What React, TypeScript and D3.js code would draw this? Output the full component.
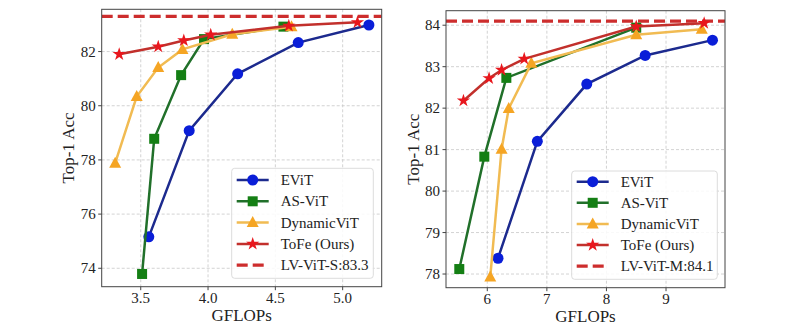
import React from "react";
import * as d3 from "d3";

// ---- Left panel data (LV-ViT-S) ----
const leftEViTX = [3.56, 3.86, 4.22, 4.67, 5.195];
const leftEViTY = [75.16, 79.08, 81.18, 82.33, 82.98];
const leftASViTX = [3.51, 3.6, 3.8, 3.97, 4.56];
const leftASViTY = [73.79, 78.78, 81.13, 82.46, 82.92];
const leftDynX = [3.31, 3.47, 3.63, 3.81, 4.18, 4.62];
const leftDynY = [77.88, 80.34, 81.41, 82.08, 82.64, 82.92];
const leftToFeX = [3.34, 3.63, 3.82, 4.02, 4.6, 5.11];
const leftToFeY = [81.9, 82.18, 82.41, 82.62, 82.95, 83.08];
const leftBaseline = 83.3;
const leftBaseLabel = "LV-ViT-S:83.3";
const leftXTicks = [3.5, 4.0, 4.5, 5.0];
const leftYTicks = [74, 76, 78, 80, 82];

// ---- Right panel data (LV-ViT-M) ----
const rightEViTX = [6.18, 6.84, 7.67, 8.65, 9.78];
const rightEViTY = [78.38, 81.2, 82.58, 83.27, 83.64];
const rightASViTX = [5.53, 5.95, 6.32, 8.5];
const rightASViTY = [78.12, 80.83, 82.73, 83.94];
const rightDynX = [6.05, 6.24, 6.36, 6.74, 8.5, 9.6];
const rightDynY = [77.93, 81.01, 81.99, 83.08, 83.77, 83.9];
const rightToFeX = [5.6, 6.03, 6.24, 6.62, 8.5, 9.64];
const rightToFeY = [82.18, 82.72, 82.92, 83.19, 83.97, 84.05];
const rightBaseline = 84.1;
const rightBaseLabel = "LV-ViT-M:84.1";
const rightXTicks = [6, 7, 8, 9];
const rightYTicks = [78, 79, 80, 81, 82, 83, 84];

const seriesNames = ["EViT", "AS-ViT", "DynamicViT", "ToFe (Ours)"];
const lineColors = ["#1c2a8e", "#21702a", "#f1bb52", "#c2302c"];
const markerColors = ["#0a1ed8", "#147f14", "#f5a524", "#e8171d"];
const markerTypes = ["circle", "square", "triangle", "star"];
const dashColor = "#cd2d2d";

const FONT = "Liberation Serif, Times New Roman, Times, serif";

function Marker({ type, x, y, color }: { type: string; x: number; y: number; color: string }) {
  if (type === "circle") return <circle cx={x} cy={y} r={5.5} fill={color} />;
  if (type === "square") return <rect x={x - 5} y={y - 5} width={10} height={10} fill={color} />;
  if (type === "triangle")
    return <path d={`M${x},${y - 6.5} L${x + 6},${y + 4.5} L${x - 6},${y + 4.5} Z`} fill={color} />;
  const star = d3.symbol().type(d3.symbolStar).size(55)();
  return <path d={star || ""} transform={`translate(${x},${y})`} fill={color} />;
}

interface PanelProps {
  box: { left: number; top: number; right: number; bottom: number };
  xDomain: [number, number];
  yDomain: [number, number];
  xTicks: number[];
  yTicks: number[];
  xFmt: (v: number) => string;
  series: { x: number[]; y: number[] }[];
  baseline: number;
  baseLabel: string;
  legend: { left: number; top: number; right: number; bottom: number; y0: number; step: number };
  yLabelX: number;
  xLabelY: number;
}

function Panel(p: PanelProps) {
  const { box } = p;
  const xs = d3.scaleLinear().domain(p.xDomain).range([box.left, box.right]);
  const ys = d3.scaleLinear().domain(p.yDomain).range([box.bottom, box.top]);
  const line = d3
    .line<[number, number]>()
    .x((d) => xs(d[0]))
    .y((d) => ys(d[1]));
  const clipId = `clip-${Math.round(box.left)}`;
  const lg = p.legend;
  return (
    <g>
      <defs>
        <clipPath id={clipId}>
          <rect x={box.left} y={box.top} width={box.right - box.left} height={box.bottom - box.top} />
        </clipPath>
      </defs>
      <rect x={box.left} y={box.top} width={box.right - box.left} height={box.bottom - box.top} fill="#fff" />
      {p.xTicks.map((t) => (
        <line key={"gx" + t} x1={xs(t)} x2={xs(t)} y1={box.top} y2={box.bottom} stroke="#c8c8c8" strokeWidth={0.8} strokeDasharray="3,2" />
      ))}
      {p.yTicks.map((t) => (
        <line key={"gy" + t} x1={box.left} x2={box.right} y1={ys(t)} y2={ys(t)} stroke="#c8c8c8" strokeWidth={0.8} strokeDasharray="3,2" />
      ))}
      <g clipPath={`url(#${clipId})`}>
        <line x1={box.left} x2={box.right} y1={ys(p.baseline)} y2={ys(p.baseline)} stroke={dashColor} strokeWidth={3.3} strokeDasharray="11,5" />
        {p.series.map((s, i) => {
          const pts = s.x.map((v, j) => [v, s.y[j]] as [number, number]);
          return (
            <g key={i}>
              <path d={line(pts) || ""} fill="none" stroke={lineColors[i]} strokeWidth={2.5} />
              {pts.map((pt, j) => (
                <Marker key={j} type={markerTypes[i]} x={xs(pt[0])} y={ys(pt[1])} color={markerColors[i]} />
              ))}
            </g>
          );
        })}
      </g>
      <rect x={box.left} y={box.top} width={box.right - box.left} height={box.bottom - box.top} fill="none" stroke="#444" strokeWidth={1} />
      {p.xTicks.map((t) => (
        <g key={"tx" + t}>
          <line x1={xs(t)} x2={xs(t)} y1={box.bottom} y2={box.bottom + 3.5} stroke="#444" />
          <text x={xs(t)} y={box.bottom + 16} textAnchor="middle" fontSize={15} fontFamily={FONT} fill="#222">
            {p.xFmt(t)}
          </text>
        </g>
      ))}
      {p.yTicks.map((t) => (
        <g key={"ty" + t}>
          <line x1={box.left - 3.5} x2={box.left} y1={ys(t)} y2={ys(t)} stroke="#444" />
          <text x={box.left - 6} y={ys(t) + 5} textAnchor="end" fontSize={15} fontFamily={FONT} fill="#222">
            {t}
          </text>
        </g>
      ))}
      <text x={(box.left + box.right) / 2} y={p.xLabelY} textAnchor="middle" fontSize={17} fontFamily={FONT} fill="#222">
        GFLOPs
      </text>
      <text
        transform={`translate(${p.yLabelX},${(box.top + box.bottom) / 2}) rotate(-90)`}
        textAnchor="middle"
        fontSize={17}
        fontFamily={FONT}
        fill="#222"
      >
        Top-1 Acc
      </text>
      <rect x={lg.left} y={lg.top} width={lg.right - lg.left} height={lg.bottom - lg.top} rx={3} fill="#fff" fillOpacity={0.85} stroke="#dcdcdc" strokeWidth={1} />
      {seriesNames.map((name, i) => {
        const y = lg.y0 + i * lg.step;
        const hx = lg.left + 5;
        return (
          <g key={name}>
            <line x1={hx} x2={hx + 32} y1={y} y2={y} stroke={lineColors[i]} strokeWidth={2.5} />
            <Marker type={markerTypes[i]} x={hx + 16} y={y} color={markerColors[i]} />
            <text x={hx + 44} y={y + 5} fontSize={15} fontFamily={FONT} fill="#222">
              {name}
            </text>
          </g>
        );
      })}
      {(() => {
        const y = lg.y0 + 4 * lg.step;
        const hx = lg.left + 5;
        return (
          <g>
            <line x1={hx} x2={hx + 32} y1={y} y2={y} stroke={dashColor} strokeWidth={3.3} strokeDasharray="11,5" />
            <text x={hx + 44} y={y + 5} fontSize={15} fontFamily={FONT} fill="#222">
              {p.baseLabel}
            </text>
          </g>
        );
      })()}
    </g>
  );
}

export default function App() {
  return (
    <svg width={785} height={334} style={{ position: "absolute", left: 0, top: 0, background: "#fff" }}>
      <rect width={785} height={334} fill="#fff" />
      <Panel
        box={{ left: 101.7, top: 9.3, right: 381.7, bottom: 286.7 }}
        xDomain={[3.21, 5.29]}
        yDomain={[73.32, 83.56]}
        xTicks={leftXTicks}
        yTicks={leftYTicks}
        xFmt={(v) => v.toFixed(1)}
        series={[
          { x: leftEViTX, y: leftEViTY },
          { x: leftASViTX, y: leftASViTY },
          { x: leftDynX, y: leftDynY },
          { x: leftToFeX, y: leftToFeY },
        ]}
        baseline={leftBaseline}
        baseLabel={leftBaseLabel}
        legend={{ left: 231.7, top: 168.3, right: 373.3, bottom: 278.3, y0: 180, step: 21.3 }}
        yLabelX={74}
        xLabelY={321}
      />
      <Panel
        box={{ left: 446, top: 10.7, right: 725, bottom: 287.7 }}
        xDomain={[5.307, 9.99]}
        yDomain={[77.67, 84.35]}
        xTicks={rightXTicks}
        yTicks={rightYTicks}
        xFmt={(v) => String(v)}
        series={[
          { x: rightEViTX, y: rightEViTY },
          { x: rightASViTX, y: rightASViTY },
          { x: rightDynX, y: rightDynY },
          { x: rightToFeX, y: rightToFeY },
        ]}
        baseline={rightBaseline}
        baseLabel={rightBaseLabel}
        legend={{ left: 571.7, top: 171, right: 717.3, bottom: 279.3, y0: 181.7, step: 21.1 }}
        yLabelX={419}
        xLabelY={322}
      />
    </svg>
  );
}
